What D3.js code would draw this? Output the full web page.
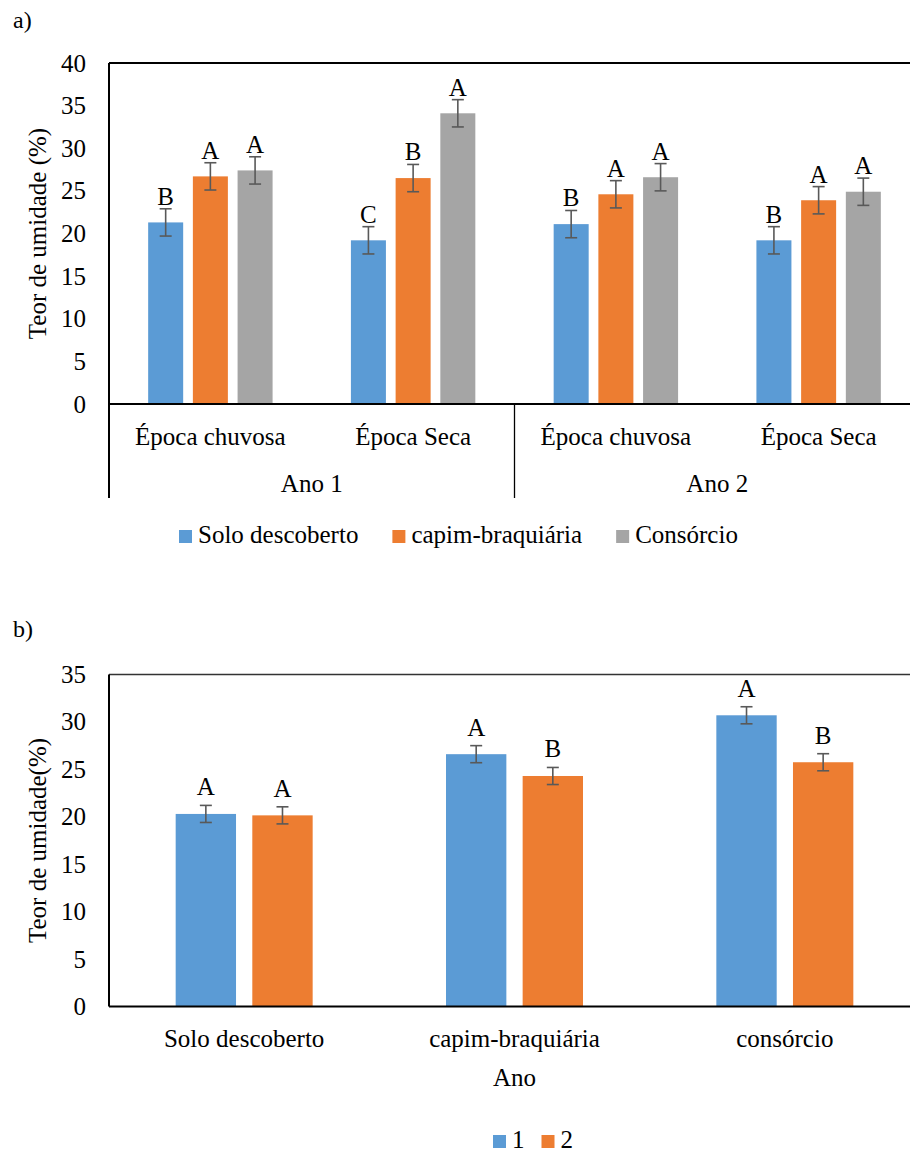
<!DOCTYPE html>
<html lang="pt">
<head>
<meta charset="UTF-8">
<title>Teor de umidade</title>
<script src="https://d3js.org/d3.v7.min.js"></script>
<style>
  body { margin: 0; background: #fff; }
</style>
</head>
<body>
<svg id="chart" width="910" height="1153"></svg>
<script>
// ---------- data: chart a) ----------
const periodsA = ["Época chuvosa", "Época Seca", "Época chuvosa ", "Época Seca "];
const yearsA = ["Ano 1", "Ano 2"];
const seriesA = ["Solo descoberto", "capim-braquiária", "Consórcio"];
const soloA = [21.3, 19.2, 21.1, 19.2];
const capimA = [26.7, 26.5, 24.6, 23.9];
const consorcioA = [27.4, 34.1, 26.6, 24.9];
const errA = [[1.6, 1.6, 1.6, 1.6], [1.6, 1.6, 1.6, 1.6], [1.6, 1.6, 1.6, 1.6]];
const lettersA = [["B", "C", "B", "B"], ["A", "B", "A", "A"], ["A", "A", "A", "A"]];
const ticksA = [0, 5, 10, 15, 20, 25, 30, 35, 40];

// ---------- data: chart b) ----------
const treatB = ["Solo descoberto", "capim-braquiária", "consórcio"];
const seriesB = ["1", "2"];
const ano1B = [20.3, 26.6, 30.7];
const ano2B = [20.15, 24.3, 25.75];
const errB = [[0.9, 0.9, 0.9], [0.9, 0.9, 0.9]];
const lettersB = [["A", "A", "A"], ["A", "B", "B"]];
const ticksB = [0, 5, 10, 15, 20, 25, 30, 35];

const colors = ["#5B9BD5", "#ED7D31", "#A5A5A5"];
const errColor = "#595959";
const FONT = "Liberation Serif, Tinos, Times New Roman, Times, Nimbus Roman, FreeSerif, Noto Serif, DejaVu Serif, serif";
const fs = 25;

const svg = d3.select("#chart").attr("font-family", FONT);

// every text gets its font set inline
function txt(sel) {
  return sel.attr("font-family", FONT).style("font-size", fs + "px").attr("fill", "#000");
}

function yAxis(g, y, ticks) {
  g.call(d3.axisLeft(y).tickValues(ticks).tickSize(0).tickPadding(23).tickFormat(d3.format("d")))
    .attr("font-family", FONT)
    .call(a => a.select(".domain").remove());
  txt(g.selectAll("text"));
}

function drawBars(g, data, x0, x1, y, cats, seriesNames, labelGap) {
  const grp = g.selectAll("g.cat").data(cats).join("g")
    .attr("class", "cat")
    .attr("transform", d => `translate(${x0(d)},0)`);

  const items = grp.selectAll("g.item")
    .data((c, ci) => seriesNames.map((s, si) => ({
      s, si, v: data[si].vals[ci], e: data[si].err[ci], l: data[si].lett[ci]
    })))
    .join("g").attr("class", "item");

  items.append("rect")
    .attr("x", d => x1(d.s))
    .attr("y", d => y(d.v))
    .attr("width", x1.bandwidth())
    .attr("height", d => y(0) - y(d.v))
    .attr("fill", d => colors[d.si]);

  const cx = d => x1(d.s) + x1.bandwidth() / 2;
  items.append("line")
    .attr("x1", cx).attr("x2", cx)
    .attr("y1", d => y(d.v + d.e)).attr("y2", d => y(d.v - d.e))
    .attr("stroke", errColor).attr("stroke-width", 1.6);
  items.append("line")
    .attr("x1", d => cx(d) - 6).attr("x2", d => cx(d) + 6)
    .attr("y1", d => y(d.v + d.e)).attr("y2", d => y(d.v + d.e))
    .attr("stroke", errColor).attr("stroke-width", 1.6);
  items.append("line")
    .attr("x1", d => cx(d) - 6).attr("x2", d => cx(d) + 6)
    .attr("y1", d => y(d.v - d.e)).attr("y2", d => y(d.v - d.e))
    .attr("stroke", errColor).attr("stroke-width", 1.6);
  txt(items.append("text"))
    .attr("x", cx)
    .attr("y", d => y(d.v + d.e) - labelGap)
    .attr("text-anchor", "middle")
    .text(d => d.l);
}

function legend(g, names, startX, y, gap) {
  let x = startX;
  names.forEach((n, i) => {
    g.append("rect").attr("x", x).attr("y", y - 13).attr("width", 13).attr("height", 13).attr("fill", colors[i]);
    const t = txt(g.append("text")).attr("x", x + 19).attr("y", y).text(n);
    x += 19 + t.node().getComputedTextLength() + gap;
  });
}

// ================= CHART a) =================
txt(svg.append("text")).attr("x", 13).attr("y", 28).style("font-size", "24px").text("a)");

const mA = { left: 109, top: 63, right: 920, bottom: 404 };
const yA = d3.scaleLinear().domain([0, 40]).range([mA.bottom, mA.top]);
const x0A = d3.scaleBand().domain(periodsA).range([mA.left, mA.right]);
const x1A = d3.scaleBand().domain(seriesA).range([0, x0A.bandwidth()]).paddingInner(0.217).paddingOuter(0.876);
const yearScale = d3.scaleBand().domain(yearsA).range([mA.left, mA.right]);

const gA = svg.append("g");
yAxis(gA.append("g").attr("transform", `translate(${mA.left},0)`), yA, ticksA);

drawBars(gA, [
  { vals: soloA, err: errA[0], lett: lettersA[0] },
  { vals: capimA, err: errA[1], lett: lettersA[1] },
  { vals: consorcioA, err: errA[2], lett: lettersA[2] }
], x0A, x1A, yA, periodsA, seriesA, 4);

// frame
gA.append("line").attr("x1", mA.left).attr("x2", mA.right).attr("y1", mA.top).attr("y2", mA.top)
  .attr("stroke", "#000").attr("stroke-width", 2);
gA.append("line").attr("x1", mA.left).attr("x2", mA.left).attr("y1", mA.top).attr("y2", mA.bottom + 94)
  .attr("stroke", "#000").attr("stroke-width", 2);
gA.append("line").attr("x1", mA.left).attr("x2", mA.right).attr("y1", mA.bottom).attr("y2", mA.bottom)
  .attr("stroke", "#000").attr("stroke-width", 2);

// multi-level category axis
txt(gA.append("g").selectAll("text").data(periodsA).join("text"))
  .attr("x", d => x0A(d) + x0A.bandwidth() / 2)
  .attr("y", mA.bottom + 41)
  .attr("text-anchor", "middle")
  .text(d => d.trim());
txt(gA.append("g").selectAll("text").data(yearsA).join("text"))
  .attr("x", d => yearScale(d) + yearScale.bandwidth() / 2)
  .attr("y", mA.bottom + 88)
  .attr("text-anchor", "middle")
  .text(d => d);
gA.append("g").selectAll("line").data(yearsA.slice(1).concat(["end"])).join("line")
  .attr("x1", d => d === "end" ? mA.right : yearScale(d))
  .attr("x2", d => d === "end" ? mA.right : yearScale(d))
  .attr("y1", mA.bottom).attr("y2", mA.bottom + 94)
  .attr("stroke", "#000").attr("stroke-width", 1.3);

txt(svg.append("text"))
  .attr("transform", `translate(46,${(mA.top + mA.bottom) / 2}) rotate(-90)`)
  .attr("text-anchor", "middle")
  .text("Teor de umidade (%)");

legend(svg.append("g"), seriesA, 179, 543, 34);

// ================= CHART b) =================
txt(svg.append("text")).attr("x", 13).attr("y", 637).style("font-size", "24px").text("b)");

const mB = { left: 109, top: 674.5, right: 920, bottom: 1006.5 };
const yB = d3.scaleLinear().domain([0, 35]).range([mB.bottom, mB.top]);
const x0B = d3.scaleBand().domain(treatB).range([mB.left, mB.right]);
const x1B = d3.scaleBand().domain(seriesB).range([0, x0B.bandwidth()]).paddingInner(0.2125).paddingOuter(0.87);

const gB = svg.append("g");
yAxis(gB.append("g").attr("transform", `translate(${mB.left},0)`), yB, ticksB);

drawBars(gB, [
  { vals: ano1B, err: errB[0], lett: lettersB[0] },
  { vals: ano2B, err: errB[1], lett: lettersB[1] }
], x0B, x1B, yB, treatB, seriesB, 10);

gB.append("line").attr("x1", mB.left).attr("x2", mB.right).attr("y1", mB.top).attr("y2", mB.top)
  .attr("stroke", "#333").attr("stroke-width", 1.5);
gB.append("line").attr("x1", mB.left).attr("x2", mB.left).attr("y1", mB.top).attr("y2", mB.bottom)
  .attr("stroke", "#000").attr("stroke-width", 2);
gB.append("line").attr("x1", mB.left).attr("x2", mB.right).attr("y1", mB.bottom).attr("y2", mB.bottom)
  .attr("stroke", "#000").attr("stroke-width", 2);

txt(gB.append("g").selectAll("text").data(treatB).join("text"))
  .attr("x", d => x0B(d) + x0B.bandwidth() / 2)
  .attr("y", mB.bottom + 40)
  .attr("text-anchor", "middle")
  .text(d => d);

txt(svg.append("text"))
  .attr("x", (mB.left + mB.right) / 2)
  .attr("y", 1086)
  .attr("text-anchor", "middle")
  .text("Ano");

txt(svg.append("text"))
  .attr("transform", `translate(46,${(mB.top + mB.bottom) / 2}) rotate(-90)`)
  .attr("text-anchor", "middle")
  .text("Teor de umidade(%)");

legend(svg.append("g"), seriesB, 493, 1148, 17);
</script>
</body>
</html>
